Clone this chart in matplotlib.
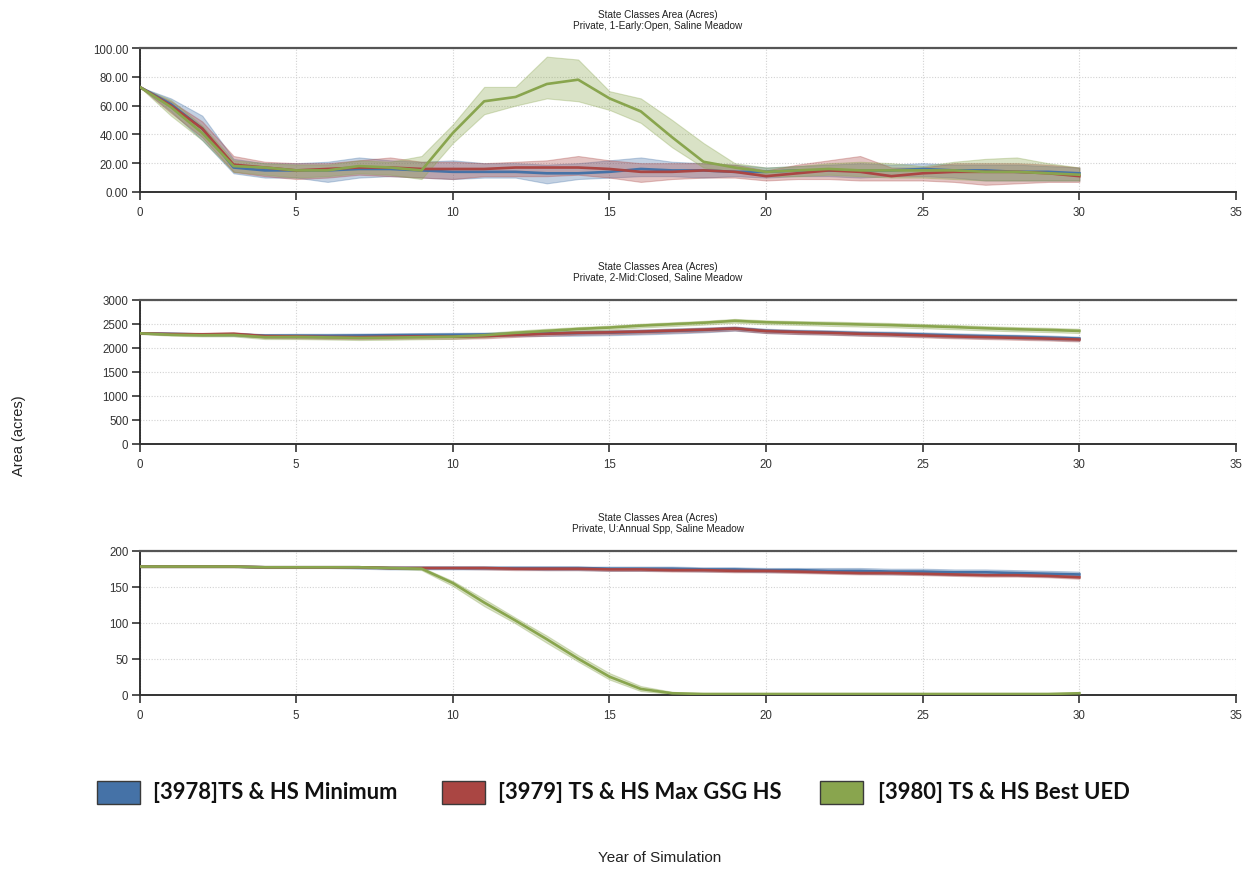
import matplotlib
matplotlib.use("Agg")
import matplotlib.pyplot as plt
from matplotlib.patches import Rectangle
from matplotlib.ticker import MultipleLocator, FormatStrFormatter

plt.rcParams['font.family'] = ['Liberation Sans', 'DejaVu Sans']

years = list(range(31))

series_names = ["[3978]TS & HS Minimum", "[3979] TS & HS Max GSG HS", "[3980] TS & HS Best UED"]
series_colors = ["#4572A7", "#AA4643", "#89A54E"]

panel_titles = [
    ("State Classes Area (Acres)", "Private, 1-Early:Open, Saline Meadow"),
    ("State Classes Area (Acres)", "Private, 2-Mid:Closed, Saline Meadow"),
    ("State Classes Area (Acres)", "Private, U:Annual Spp, Saline Meadow"),
]

# ---- Panel 1: 1-Early:Open ----
early_min_mean = [73, 61, 44, 17, 15, 15, 15, 16, 16, 15, 14, 14, 14, 13, 13, 14, 16, 15, 15, 14, 14, 15, 15, 15, 15, 16, 15, 15, 14, 14, 13]
early_min_hi   = [73, 65, 53, 23, 20, 20, 21, 24, 22, 21, 22, 20, 20, 19, 20, 22, 24, 21, 20, 19, 17, 18, 19, 20, 19, 20, 19, 19, 19, 18, 17]
early_min_lo   = [73, 56, 36, 13, 10, 10, 7, 10, 11, 10, 9, 10, 10, 6, 9, 10, 11, 11, 10, 11, 10, 11, 11, 10, 11, 11, 10, 8, 8, 8, 8]

early_max_mean = [73, 60, 44, 19, 17, 15, 16, 17, 17, 16, 16, 16, 17, 17, 17, 16, 14, 14, 15, 14, 11, 13, 15, 14, 11, 13, 14, 14, 14, 13, 11]
early_max_hi   = [73, 63, 49, 25, 21, 20, 20, 22, 24, 21, 21, 20, 21, 22, 25, 22, 20, 20, 20, 19, 15, 19, 22, 25, 17, 17, 20, 20, 20, 19, 17]
early_max_lo   = [73, 55, 38, 14, 11, 9, 10, 12, 11, 10, 9, 11, 11, 11, 12, 10, 7, 9, 10, 10, 8, 9, 9, 8, 8, 8, 7, 5, 6, 7, 7]

early_best_mean = [73, 59, 41, 18, 17, 15, 15, 18, 17, 15, 41, 63, 66, 75, 78, 65, 56, 38, 21, 17, 14, 15, 16, 15, 15, 15, 15, 14, 14, 13, 12]
early_best_hi   = [73, 64, 46, 22, 20, 19, 19, 22, 21, 25, 47, 73, 73, 94, 92, 70, 65, 50, 34, 20, 17, 18, 20, 21, 20, 18, 21, 23, 24, 20, 17]
early_best_lo   = [73, 53, 36, 14, 12, 10, 11, 13, 12, 9, 34, 54, 60, 65, 63, 57, 48, 31, 17, 14, 11, 11, 12, 11, 10, 10, 9, 8, 8, 8, 8]

# ---- Panel 2: 2-Mid:Closed ----
mid_min_mean = [2300, 2290, 2275, 2275, 2250, 2250, 2250, 2255, 2260, 2265, 2270, 2275, 2285, 2295, 2305, 2315, 2330, 2350, 2370, 2400, 2350, 2330, 2320, 2300, 2290, 2275, 2255, 2240, 2230, 2210, 2190]
mid_min_hi   = [2310, 2305, 2295, 2300, 2285, 2290, 2290, 2295, 2300, 2305, 2310, 2315, 2330, 2345, 2355, 2365, 2380, 2400, 2420, 2440, 2395, 2375, 2365, 2345, 2335, 2320, 2300, 2285, 2270, 2255, 2230]
mid_min_lo   = [2290, 2270, 2250, 2245, 2215, 2210, 2210, 2215, 2220, 2225, 2230, 2235, 2240, 2245, 2250, 2260, 2275, 2295, 2320, 2355, 2305, 2285, 2275, 2255, 2245, 2230, 2210, 2195, 2185, 2165, 2145]

mid_max_mean = [2300, 2285, 2280, 2290, 2240, 2235, 2225, 2220, 2230, 2235, 2230, 2240, 2265, 2290, 2310, 2320, 2335, 2355, 2375, 2400, 2345, 2325, 2310, 2290, 2275, 2255, 2235, 2220, 2205, 2190, 2170]
mid_max_hi   = [2310, 2300, 2300, 2320, 2275, 2275, 2265, 2265, 2275, 2280, 2275, 2285, 2305, 2330, 2350, 2360, 2375, 2395, 2415, 2440, 2385, 2365, 2350, 2330, 2315, 2295, 2275, 2260, 2245, 2230, 2210]
mid_max_lo   = [2290, 2265, 2255, 2260, 2205, 2195, 2185, 2180, 2185, 2190, 2185, 2195, 2225, 2250, 2270, 2280, 2295, 2315, 2335, 2360, 2305, 2285, 2270, 2250, 2235, 2215, 2195, 2180, 2165, 2150, 2130]

mid_best_mean = [2300, 2270, 2260, 2265, 2220, 2225, 2215, 2205, 2210, 2220, 2230, 2260, 2310, 2350, 2390, 2420, 2460, 2490, 2520, 2560, 2530, 2515, 2500, 2485, 2470, 2450, 2430, 2405, 2385, 2370, 2350]
mid_best_hi   = [2315, 2290, 2285, 2295, 2260, 2265, 2255, 2250, 2255, 2265, 2275, 2305, 2355, 2395, 2430, 2460, 2500, 2530, 2560, 2600, 2570, 2555, 2545, 2530, 2515, 2495, 2475, 2450, 2430, 2415, 2395]
mid_best_lo   = [2285, 2250, 2235, 2235, 2180, 2180, 2170, 2160, 2165, 2175, 2185, 2215, 2265, 2305, 2350, 2380, 2420, 2450, 2480, 2520, 2490, 2475, 2455, 2440, 2425, 2405, 2385, 2360, 2340, 2325, 2305]

# ---- Panel 3: U:Annual Spp ----
annual_min_mean = [178, 178, 178, 178, 177, 177, 177, 177, 176, 176, 176, 176, 176, 176, 176, 175, 175, 175, 174, 174, 173, 173, 172, 172, 171, 171, 170, 170, 169, 168, 167]
annual_min_hi   = [179, 179, 179, 179, 178, 178, 178, 178, 178, 178, 178, 178, 178, 178, 178, 178, 178, 178, 177, 177, 176, 176, 176, 176, 175, 175, 174, 174, 173, 172, 171]
annual_min_lo   = [177, 177, 177, 177, 176, 176, 176, 175, 174, 174, 174, 174, 174, 173, 173, 172, 172, 172, 171, 171, 170, 170, 169, 168, 167, 167, 166, 166, 165, 164, 163]

annual_max_mean = [178, 178, 178, 178, 177, 177, 177, 177, 176, 176, 176, 176, 175, 175, 175, 174, 174, 173, 173, 172, 172, 171, 170, 169, 169, 168, 167, 166, 166, 165, 163]
annual_max_hi   = [179, 179, 179, 179, 178, 178, 178, 178, 177, 177, 177, 177, 177, 177, 177, 176, 176, 175, 175, 174, 174, 173, 172, 171, 171, 170, 169, 168, 168, 167, 166]
annual_max_lo   = [177, 177, 177, 177, 176, 176, 176, 176, 175, 175, 175, 174, 173, 173, 173, 172, 172, 171, 171, 170, 170, 169, 168, 167, 167, 166, 165, 164, 164, 163, 161]

annual_best_mean = [178, 178, 178, 178, 177, 177, 177, 177, 176, 175, 155, 128, 103, 77, 50, 25, 8, 2, 1, 1, 1, 1, 1, 1, 1, 1, 1, 1, 1, 1, 2]
annual_best_hi   = [179, 179, 179, 179, 178, 178, 178, 178, 177, 177, 158, 133, 107, 82, 55, 30, 12, 4, 2, 2, 2, 2, 2, 2, 2, 2, 2, 2, 2, 2, 3]
annual_best_lo   = [177, 177, 177, 177, 176, 176, 176, 176, 175, 173, 151, 123, 99, 72, 46, 21, 5, 1, 0, 0, 0, 0, 0, 0, 0, 0, 0, 0, 0, 0, 1]

panels = [
    dict(series=[(early_min_mean, early_min_lo, early_min_hi),
                 (early_max_mean, early_max_lo, early_max_hi),
                 (early_best_mean, early_best_lo, early_best_hi)],
         ymax=100, ystep=20, fmt='%.2f'),
    dict(series=[(mid_min_mean, mid_min_lo, mid_min_hi),
                 (mid_max_mean, mid_max_lo, mid_max_hi),
                 (mid_best_mean, mid_best_lo, mid_best_hi)],
         ymax=3000, ystep=500, fmt='%d'),
    dict(series=[(annual_min_mean, annual_min_lo, annual_min_hi),
                 (annual_max_mean, annual_max_lo, annual_max_hi),
                 (annual_best_mean, annual_best_lo, annual_best_hi)],
         ymax=200, ystep=50, fmt='%d'),
]

W, H = 1246, 870
fig = plt.figure(figsize=(W / 100, H / 100), dpi=100)

ax_left, ax_right = 139.6, 1236.0
ax_tops = [49.0, 300.7, 551.7]
ax_h = 144.0

for p, top, (t1, t2) in zip(panels, ax_tops, panel_titles):
    ax = fig.add_axes([ax_left / W, 1 - (top + ax_h) / H, (ax_right - ax_left) / W, ax_h / H])
    for (mean, lo, hi), color in zip(p['series'], series_colors):
        ax.fill_between(years, lo, hi, color=color, alpha=0.32, linewidth=0.8,
                        edgecolor=color, zorder=2)
        ax.plot(years, mean, color=color, linewidth=1.9, zorder=3)
    ax.set_xlim(0, 35)
    ax.set_ylim(0, p['ymax'])
    ax.xaxis.set_major_locator(MultipleLocator(5))
    ax.yaxis.set_major_locator(MultipleLocator(p['ystep']))
    ax.yaxis.set_major_formatter(FormatStrFormatter(p['fmt']))
    ax.grid(True, color='#d2d2d2', linestyle=(0, (1.0, 1.5)), linewidth=0.8, zorder=0)
    ax.set_axisbelow(True)
    ax.spines['right'].set_visible(False)
    ax.spines['top'].set_color('#555555')
    ax.spines['top'].set_linewidth(1.6)
    ax.spines['left'].set_color('#111111')
    ax.spines['left'].set_linewidth(1.2)
    ax.spines['bottom'].set_color('#333333')
    ax.spines['bottom'].set_linewidth(1.4)
    ax.tick_params(axis='both', direction='out', length=6, width=1.2, color='#333333',
                   labelsize=8.3, labelcolor='#333333', pad=2)
    ax.tick_params(axis='x', pad=4)
    fig.text(658 / W, 1 - (top - 34) / H, t1, ha='center', va='center', fontsize=7.2, color='#222222')
    fig.text(658 / W, 1 - (top - 23) / H, t2, ha='center', va='center', fontsize=7.2, color='#222222')

# Legend row
legend_items = [(96.7, 153), (441.7, 498), (820, 878)]
for (px, tx), name, color in zip(legend_items, series_names, series_colors):
    fig.patches.append(Rectangle((px / W, 1 - 805 / H), 43 / W, 23 / H,
                                 transform=fig.transFigure, facecolor=color,
                                 edgecolor='#3a3a3a', linewidth=1.0))
    fig.text(tx / W, 1 - 793 / H, name, ha='left', va='center', fontsize=15.8,
             fontweight='bold', family=['Lato', 'DejaVu Sans'], color='#111111')

fig.text(660 / W, 1 - 858 / H, "Year of Simulation", ha='center', va='center',
         fontsize=11, color='#222222')
fig.text(19 / W, 1 - 436 / H, "Area (acres)", ha='center', va='center', rotation=90,
         fontsize=10.5, color='#222222')

fig.savefig("out.png", dpi=100)
